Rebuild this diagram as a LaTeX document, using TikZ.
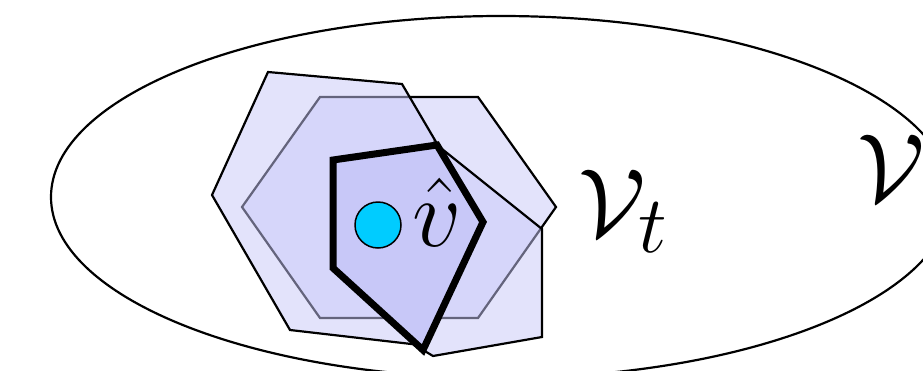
\documentclass[tikz,border=0pt]{standalone}
\usepackage{tikz}
\usetikzlibrary{positioning}
\definecolor{cellblue}{RGB}{200,200,248}
\definecolor{hatcell}{RGB}{200,200,248}
\definecolor{pointcyan}{RGB}{0,204,255}

\begin{document}
\begin{tikzpicture}[x=1pt, y=-1pt,
  cell/.style={draw=black, line width=2.2pt, fill=cellblue, fill opacity=0.5},
  hatcellbox/.style={draw=black, line width=7pt, fill=hatcell},
  lab/.style={inner sep=0pt, font=\Huge, scale=3.9}]
\useasboundingbox (0,0) rectangle (923,370);
\clip (0,0) rectangle (923,370);
% whole set
\draw[line width=2.2pt] (501,197) ellipse [x radius=450, y radius=181];
% cells
\path[cell] (320,97) -- (478,97) -- (556,207) -- (478,318) -- (320,318) -- (242,207) -- cycle;
\path[cell] (268,72) -- (402,84) -- (483,222) -- (420,345) -- (290,330) -- (212,195) -- cycle;
\path[cell] (437,145) -- (542,229) -- (542,337) -- (433,356) -- (423,350) -- (483,222) -- cycle;
\path[hatcellbox] (333,160) -- (437,145) -- (483,222) -- (423,350) -- (333,268) -- cycle;
% point and labels
\node[circle, draw=black, line width=1.5pt, fill=pointcyan, minimum size=46pt, inner sep=0pt] (vpt) at (378,225) {};
\node[lab, anchor=base] (vhat) at (437,246) {$\hat{v}$};
\node[lab, anchor=base west] (Vt) at (578,236) {$\mathcal{V}_t$};
\node[lab, anchor=base west] (V) at (857,201) {$\mathcal{V}$};
\end{tikzpicture}
\end{document}
